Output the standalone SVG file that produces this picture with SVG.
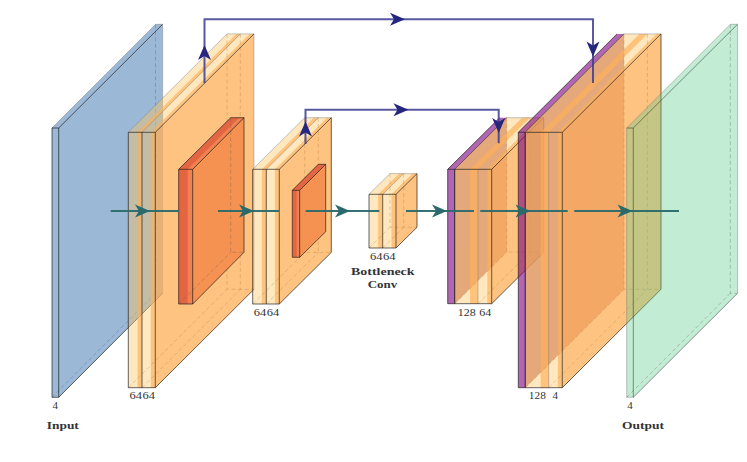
<svg xmlns="http://www.w3.org/2000/svg" width="747" height="462" viewBox="0 0 747 462">
<style>
.bg{fill:#fff}
.pale{fill:rgb(255,197,95);fill-opacity:.4}
.strip{fill:rgb(255,175,87);fill-opacity:.65}
.right{fill:rgb(255,175,87);fill-opacity:.75}
.blue{fill:#9BB8D6}
.green{fill:rgb(93,204,141);fill-opacity:.37}
.purple{fill:rgb(123,0,128);fill-opacity:.6}
.pright{fill:rgb(193,102,94);fill-opacity:.7}
.red{fill:#E2623F;fill-opacity:.97}
.rstrip{fill:#F0824F}
.rright{fill:#F48F4F;fill-opacity:.95}
.e{fill:none;stroke:#1c1c1c;stroke-width:.8;stroke-opacity:.85}
.g{fill:none;stroke:#777;stroke-width:.8;stroke-opacity:.55}
.d{fill:none;stroke:#555;stroke-width:.7;stroke-opacity:.45;stroke-dasharray:4 2.5}
.t{fill:none;stroke:#2B6A6C;stroke-width:2;stroke-opacity:.95}
.s{fill:none;stroke:#3C3C92;stroke-width:2;stroke-opacity:.85;stroke-linejoin:miter}
.th{fill:#2B6A6C}
.sh{fill:#26267F}
text{font-family:"Liberation Serif","DejaVu Serif",serif;fill:#333;font-size:11px;text-anchor:middle}
.b{font-weight:bold;font-size:11px}
</style>
<defs>
<path id="head" d="M0 0L-15 -6.500L-11 0L-15 6.500Z"/>
</defs>

<g id="input">
<path class="blue" d="M52 128H58.700L162.600 24.300H155.500ZM52 128H58.700V397.300H52ZM58.700 128L162.600 24.300V293.300L58.700 397.300Z"/>
<path class="d" d="M155.500 24.300V293.300H162.600M52 397.300L155.500 293.300"/>
<path class="g" d="M52 128L155.500 24.300H162.600V293.300"/>
<path class="e" d="M52 128H58.700V397.300H52ZM58.700 128L162.600 24.300M58.700 397.300L162.600 293.300"/>
</g>

<g id="conv1">
<path class="right" d="M155.300 132.300L254 33.900V289.300L155.300 387.700Z"/>
<path class="pale" d="M128.300 132.300H155.300L254 33.900H227ZM128.300 132.300H155.300V387.700H128.300Z"/>
<path class="strip" d="M137.600 132.300H142V387.700H137.600ZM150.800 132.300H155.300V387.700H150.800ZM137.600 132.300H142L240.700 33.900H236.300ZM150.800 132.300H155.300L254 33.900H249.500Z"/>
<path class="d" style="stroke:#A87838" d="M227 33.900V289.300H254M240.300 33.900V289.300M128.300 387.700L227 289.300M142 387.700L240.300 289.300"/>
<path class="g" d="M128.300 132.300L227 33.900H254V289.300M142 132.300L240.300 33.900"/>
<path class="e" d="M128.300 132.300H155.300V387.700H128.300ZM142 132.300V387.700M155.300 132.300L254 33.900M155.300 387.700L254 289.300"/>
</g>

<g id="pool1">
<path class="rright" d="M192.700 169.300L244 117.700V252.300L192.700 304Z"/>
<path class="red" d="M178.700 169.300H192.700L244 117.700H230.700ZM178.700 169.300H192.700V304H178.700Z"/>
<path class="rstrip" d="M187.700 169.300H192.700V304H187.700ZM187.700 169.300H192.700L244 117.700H239Z"/>
<path class="d" d="M230.700 117.700V252.300H244M178.700 304L230.700 252.300"/>
<path class="e" d="M178.700 169.300H192.700V304H178.700ZM178.700 169.300L230.700 117.700H244V252.300L192.700 304M192.700 169.300L244 117.700"/>
</g>

<g id="conv2">
<path class="right" d="M279.300 169.300L331.300 117.700V252.400L279.300 304Z"/>
<path class="pale" d="M252.700 169.300H279.300L331.300 117.700H304.700ZM252.700 169.300H279.300V304H252.700Z"/>
<path class="strip" d="M261.800 169.300H266.300V304H261.800ZM274.900 169.300H279.300V304H274.900ZM261.800 169.300H266.300L318.300 117.700H313.800ZM274.900 169.300H279.300L331.300 117.700H326.900Z"/>
<path class="d" style="stroke:#A87838" d="M304.700 117.700V252.400H331.300M318.300 117.700V252.400M252.700 304L304.700 252.400M266.300 304L318.300 252.400"/>
<path class="g" d="M252.700 169.300L304.700 117.700H331.300M266.300 169.300L318.300 117.700"/>
<path class="e" d="M252.700 169.300H279.300V304H252.700ZM266.300 169.300V304M279.300 169.300L331.300 117.700V252.400L279.300 304"/>
</g>

<g id="pool2">
<path class="rright" d="M299.700 190.300L325.700 164.300V231.700L299.700 257.300Z"/>
<path class="red" d="M292.300 190.300H299.700L325.700 164.300H318.300ZM292.300 190.300H299.700V257.300H292.300Z"/>
<path class="rstrip" d="M296.700 190.300H299.700V257.300H296.700Z"/>
<path class="e" d="M292.300 190.300H299.700V257.300H292.300ZM292.300 190.300L318.300 164.300H325.700V231.700L299.700 257.300M299.700 190.300L325.700 164.300"/>
</g>

<g id="bottleneck">
<path class="right" d="M396 194.300L417 173.600V227.300L396 248Z"/>
<path class="pale" d="M369 194.300H396L417 173.600H390ZM369 194.300H396V248H369Z"/>
<path class="strip" d="M378.200 194.300H382.700V248H378.200ZM391.500 194.300H396V248H391.500ZM378.200 194.300H382.700L403.700 173.600H399.200ZM391.500 194.300H396L417 173.600H412.500Z"/>
<path class="d" style="stroke:#A87838" d="M390 173.600V227.300H417M403.700 173.600V227.300M369 248L390 227.300M382.700 248L403.700 227.300"/>
<path class="g" d="M369 194.300L390 173.600H417M382.700 194.300L403.700 173.600"/>
<path class="e" d="M369 194.300H396V248H369ZM382.700 194.300V248M396 194.300L417 173.600V227.300L396 248"/>
</g>

<g id="unpool1">
<path class="pright" d="M454.700 169.300L506.700 117.700V252.100L454.700 303.700Z"/>
<path class="purple" d="M447.700 169.300H454.700L506.700 117.700H499.700ZM447.700 169.300H454.700V303.700H447.700Z"/>
<path class="e" d="M447.700 169.300H454.700V303.700H447.700ZM447.700 169.300L499.700 117.700M454.700 169.300L506.700 117.700"/>
</g>

<g id="conv3">
<path class="right" d="M491.700 169.300L543.700 117.700V252.100L491.700 303.700Z"/>
<path class="pale" d="M454.700 169.300H491.700L543.700 117.700H506.700ZM454.700 169.300H491.700V303.700H454.700Z"/>
<path class="strip" d="M470 169.300H478V303.700H470ZM487.300 169.300H491.700V303.700H487.300ZM470 169.300H478L530 117.700H522ZM487.300 169.300H491.700L543.700 117.700H539.300Z"/>
<path class="d" style="stroke:#A87838" d="M506.700 117.700V252.100H543.700M530 117.700V252.100M454.700 303.700L506.700 252.100M478 303.700L530 252.100"/>
<path class="g" d="M478 169.300V303.700M506.700 117.700H543.700"/>
<path class="e" d="M454.700 169.300H491.700V303.700H454.700ZM491.700 169.300L543.700 117.700V252.100L491.700 303.700"/>
</g>

<g id="unpool2">
<path class="pright" d="M525.300 132.300L624 33.900V289.300L525.300 387.700Z"/>
<path class="purple" d="M518.300 132.300H525.300L624 33.900H617ZM518.300 132.300H525.300V387.700H518.300Z"/>
<path class="e" d="M518.300 132.300H525.300V387.700H518.300ZM518.300 132.300L617 33.900M525.300 132.300L624 33.900"/>
</g>

<g id="conv4">
<path class="right" d="M562.300 132.300L661 33.900V289.300L562.300 387.700Z"/>
<path class="pale" d="M525.300 132.300H562.300L661 33.900H624ZM525.300 132.300H562.300V387.700H525.300Z"/>
<path class="strip" d="M540.700 132.300H548.700V387.700H540.700ZM557.800 132.300H562.300V387.700H557.800ZM540.700 132.300H548.700L647.400 33.900H639.400ZM557.800 132.300H562.300L661 33.900H656.500Z"/>
<path class="d" style="stroke:#A87838" d="M624 33.900V289.300H661M647.400 33.900V289.300M525.300 387.700L624 289.300M548.700 387.700L647.400 289.300"/>
<path class="g" d="M548.700 132.300V387.700M624 33.900H661"/>
<path class="e" d="M525.300 132.300H562.300V387.700H525.300ZM562.300 132.300L661 33.900V289.300L562.300 387.700"/>
</g>

<g id="output">
<path class="green" d="M626.700 128H633.300L737.500 24.300H730.300ZM626.700 128H633.300V397.300H626.700ZM633.300 128L737.500 24.300V293.300L633.300 397.300Z"/>
<path class="d" d="M730.300 24.300V293.300H737.500M626.700 397.300L730.300 293.300"/>
<path class="g" d="M626.700 128L730.300 24.300H737.500V293.300M626.700 128V397.300H633.300"/>
<path class="e" style="stroke-opacity:.6" d="M626.700 128H633.300V397.300M633.300 128L737.500 24.300M633.300 397.300L737.500 293.300"/>
</g>

<g id="connectors">
<path class="t" d="M110.700 211H178.700M218 211H279M305.700 211H379.300M406 211H474M480.300 211H567.700M574.300 211H679"/>
<g class="th">
<use href="#head" transform="translate(150 211)"/>
<use href="#head" transform="translate(254 211)"/>
<use href="#head" transform="translate(350 211)"/>
<use href="#head" transform="translate(447 211)"/>
<use href="#head" transform="translate(530.500 211)"/>
<use href="#head" transform="translate(632.500 211)"/>
</g>
<path class="s" d="M204.500 83V19.300H593V83"/>
<path class="s" d="M305.500 144V109.700H498.700V143.300"/>
<g class="sh">
<use href="#head" transform="translate(204.500 45) rotate(-90)"/>
<use href="#head" transform="translate(405 19.300)"/>
<use href="#head" transform="translate(593 56.500) rotate(90)"/>
<use href="#head" transform="translate(305.500 121.500) rotate(-90)"/>
<use href="#head" transform="translate(408.500 109.700)"/>
<use href="#head" transform="translate(498.700 133) rotate(90)"/>
</g>
</g>

<g id="labels">
<text x="55.300" y="409">4</text>
<text x="62.800" y="429" class="b" textLength="32" lengthAdjust="spacingAndGlyphs">Input</text>
<text x="135.800" y="399.300" textLength="12.500" lengthAdjust="spacingAndGlyphs">64</text>
<text x="148.800" y="399.300" textLength="12.500" lengthAdjust="spacingAndGlyphs">64</text>
<text x="260" y="316" textLength="12.500" lengthAdjust="spacingAndGlyphs">64</text>
<text x="273" y="316" textLength="12.500" lengthAdjust="spacingAndGlyphs">64</text>
<text x="376.200" y="260" textLength="12.500" lengthAdjust="spacingAndGlyphs">64</text>
<text x="389.200" y="260" textLength="12.500" lengthAdjust="spacingAndGlyphs">64</text>
<text x="382.800" y="275" class="b" textLength="63.500" lengthAdjust="spacingAndGlyphs">Bottleneck</text>
<text x="382.400" y="288" class="b" textLength="29.500" lengthAdjust="spacingAndGlyphs">Conv</text>
<text x="466.700" y="316" textLength="18" lengthAdjust="spacingAndGlyphs">128</text>
<text x="485.200" y="316" textLength="12" lengthAdjust="spacingAndGlyphs">64</text>
<text x="537.300" y="399.300" textLength="17" lengthAdjust="spacingAndGlyphs">128</text>
<text x="555.300" y="399.300">4</text>
<text x="630" y="409">4</text>
<text x="643" y="429" class="b" textLength="42" lengthAdjust="spacingAndGlyphs">Output</text>
</g>
</svg>
